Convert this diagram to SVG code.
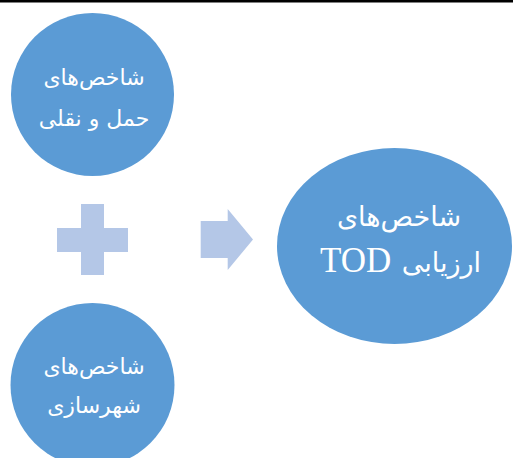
<svg xmlns="http://www.w3.org/2000/svg" width="513" height="458" viewBox="0 0 513 458">
<style>
.node{fill:#5B9BD5}
.shape{fill:#B4C7E7}
.ar{font-family:"DejaVu Sans",sans-serif;fill:#FFFFFF;text-anchor:middle;direction:rtl}
.lat{font-family:"Liberation Serif",serif;fill:#FFFFFF}
</style>
<rect x="0" y="0" width="513" height="2.5" fill="#000000"/>
<g id="node-transport">
<circle class="node" cx="92.5" cy="94.5" r="81.5"/>
<text class="ar" x="94" y="85" font-size="22">شاخص‌های</text>
<text class="ar" x="94" y="126" font-size="22">حمل و نقلی</text>
</g>
<g id="node-urban">
<circle class="node" cx="92.5" cy="385" r="82"/>
<text class="ar" x="94" y="374" font-size="22">شاخص‌های</text>
<text class="ar" x="94" y="413" font-size="22">شهرسازی</text>
</g>
<g id="node-tod">
<ellipse class="node" cx="394.5" cy="246" rx="117.5" ry="98"/>
<text class="ar" x="399" y="226" font-size="27">شاخص‌های</text>
<text class="ar" x="481" y="272" font-size="27" style="text-anchor:start">ارزیابی</text>
<text class="lat" x="320" y="272" font-size="35">TOD</text>
</g>
<g id="connectors">
<path class="shape" d="M81,204 H104 V228 H128 V252 H104 V275 H81 V252 H57 V228 H81 Z"/>
<path class="shape" d="M200.7,221 H227.7 V209 L253,239.5 L227.7,270 V258 H200.7 Z"/>
</g>
</svg>
